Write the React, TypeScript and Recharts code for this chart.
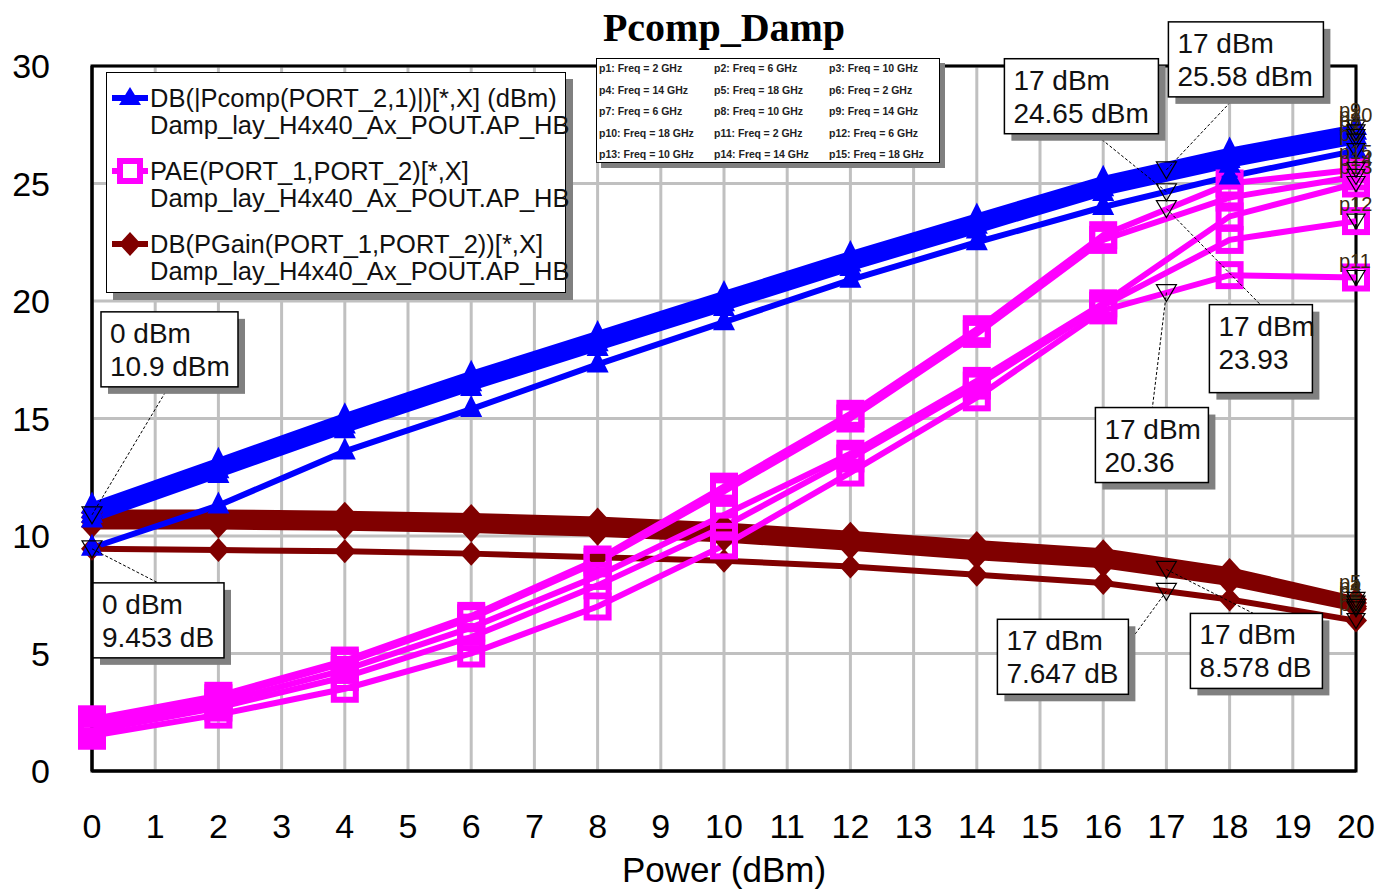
import React from "react"
import { LineChart, Line, XAxis, YAxis, CartesianGrid, ReferenceDot, ReferenceArea } from "recharts"

// input power sweep (dBm)
const power = [0, 2, 4, 6, 8, 10, 12, 14, 16, 18, 20]
const freqLabels = ["2 GHz", "6 GHz", "10 GHz", "14 GHz", "18 GHz"]

// DB(|Pcomp(PORT_2,1)|) per frequency (dBm)
const pcomp2 = [9.5, 11.3, 13.6, 15.4, 17.3, 19.1, 20.9, 22.5, 24.0, 25.3, 26.4]
const pcomp6 = [10.7, 12.6, 14.5, 16.3, 18.0, 19.7, 21.4, 23.0, 24.6, 25.8, 26.8]
const pcomp10 = [10.9, 12.8, 14.7, 16.5, 18.2, 19.9, 21.6, 23.2, 24.8, 26.0, 27.0]
const pcomp14 = [11.3, 13.2, 15.1, 16.9, 18.6, 20.3, 22.0, 23.6, 25.2, 26.4, 27.4]
const pcomp18 = [11.1, 13.0, 14.9, 16.7, 18.4, 20.1, 21.8, 23.4, 25.0, 26.2, 27.2]

// PAE(PORT_1,PORT_2) per frequency (%)
const pae2 = [1.5, 2.4, 3.5, 5.0, 7.0, 9.6, 12.7, 15.9, 19.6, 21.1, 21.0]
const pae6 = [1.7, 2.7, 4.0, 5.7, 7.9, 10.4, 13.3, 16.4, 19.8, 22.6, 23.4]
const pae10 = [1.9, 2.9, 4.3, 6.1, 8.3, 10.9, 13.5, 16.6, 19.9, 23.6, 25.0]
const pae14 = [2.1, 3.1, 4.6, 6.5, 8.9, 11.9, 15.0, 18.6, 22.6, 24.4, 25.3]
const pae18 = [2.2, 3.2, 4.7, 6.6, 9.0, 12.1, 15.2, 18.8, 22.8, 25.0, 25.6]

// DB(PGain(PORT_1,PORT_2)) per frequency (dB)
const gain2 = [9.453, 9.4, 9.35, 9.25, 9.1, 8.95, 8.7, 8.35, 8.0, 7.3, 6.4]
const gain6 = [10.4, 10.4, 10.35, 10.25, 10.1, 9.85, 9.5, 9.1, 8.75, 8.0, 6.9]
const gain10 = [10.6, 10.6, 10.55, 10.45, 10.3, 10.05, 9.7, 9.3, 8.95, 8.2, 7.0]
const gain14 = [10.8, 10.8, 10.75, 10.65, 10.5, 10.25, 9.9, 9.5, 9.15, 8.4, 7.15]
const gain18 = [11.0, 11.0, 10.95, 10.85, 10.7, 10.45, 10.1, 9.7, 9.35, 8.55, 7.3]

// marker readouts
const markerX = [0, 0, 17, 17, 17, 17, 17, 17]
const markerY = [10.9, 9.453, 25.58, 24.65, 23.93, 20.36, 8.578, 7.647]
const markerUnit = ["dBm", "dB", "dBm", "dBm", "", "", "dB", "dB"]

const xTicks = [0, 1, 2, 3, 4, 5, 6, 7, 8, 9, 10, 11, 12, 13, 14, 15, 16, 17, 18, 19, 20]
const yTicks = [0, 5, 10, 15, 20, 25, 30]

const BLUE = "#0000FF"
const MAGENTA = "#FF00FF"
const DARKRED = "#800000"
const FONT = "'Liberation Sans', Arial, sans-serif"

// box placement for each readout, relative to its marker (pixels)
const boxLayout = [
  { dx: 9, dy: -203, w: 137, h: 75, lx: 73, ly: -122 },
  { dx: 1, dy: 34, w: 131, h: 75, lx: 66, ly: 34 },
  { dx: 2, dy: -148, w: 155, h: 75, lx: 69, ly: -73 },
  { dx: -162, dy: -133, w: 154, h: 75, lx: -73, ly: -59 },
  { dx: 43, dy: 96, w: 103, h: 88, lx: 94, ly: 96 },
  { dx: -71, dy: 115, w: 113, h: 75, lx: -14, ly: 115 },
  { dx: 24, dy: 44, w: 132, h: 75, lx: 87, ly: 44 },
  { dx: -169, dy: 28, w: 131, h: 75, lx: -38, ly: 52 },
]

const groups = [
  { id: "gain", color: DARKRED, marker: "diamond", series: [gain2, gain6, gain10, gain14, gain18] },
  { id: "pcomp", color: BLUE, marker: "triangle", series: [pcomp2, pcomp6, pcomp10, pcomp14, pcomp18] },
  { id: "pae", color: MAGENTA, marker: "square", series: [pae2, pae6, pae10, pae14, pae18] },
]
// draw order: gain at the bottom, then PAE, then Pcomp on top
const drawOrder = ["gain", "pae", "pcomp"]

const data = power.map((p, i) => {
  const row: Record<string, number> = { power: p }
  groups.forEach((g) => g.series.forEach((s, k) => (row[`${g.id}${k}`] = s[i])))
  return row
})

function makeDot(marker: string, color: string, key: string) {
  return (props: any) => {
    const { cx, cy, index } = props
    if (cx == null || cy == null) return <g key={`${key}-${index}`} />
    if (marker === "triangle") {
      return (
        <polygon key={`${key}-${index}`} points={`${cx},${cy - 14} ${cx + 11},${cy + 8} ${cx - 11},${cy + 8}`} fill={color} />
      )
    }
    if (marker === "diamond") {
      return (
        <polygon key={`${key}-${index}`} points={`${cx},${cy - 12} ${cx + 11},${cy} ${cx},${cy + 12} ${cx - 11},${cy}`} fill={color} />
      )
    }
    return <rect key={`${key}-${index}`} x={cx - 11} y={cy - 11} width={22} height={22} fill="none" stroke={color} strokeWidth={6} />
  }
}

function ReadoutShape(props: any) {
  const { cx, cy, idx } = props
  const b = boxLayout[idx]
  const bx = cx + b.dx
  const by = cy + b.dy
  const line2 = markerUnit[idx] ? `${markerY[idx]} ${markerUnit[idx]}` : `${markerY[idx]}`
  return (
    <g>
      <line x1={cx} y1={cy} x2={cx + b.lx} y2={cy + b.ly} stroke="#000" strokeWidth={1} strokeDasharray="3 2" />
      <polygon points={`${cx - 10},${cy - 8} ${cx + 10},${cy - 8} ${cx},${cy + 9}`} fill="none" stroke="#000" strokeWidth={1.2} />
      <rect x={bx + 7} y={by + 7} width={b.w} height={b.h} fill="#808080" />
      <rect x={bx} y={by} width={b.w} height={b.h} fill="#fff" stroke="#000" strokeWidth={1.5} />
      <text x={bx + 9} y={by + 31} fontSize={28} fontFamily={FONT} fill="#111">
        {`${markerX[idx]} dBm`}
      </text>
      <text x={bx + 9} y={by + 64} fontSize={28} fontFamily={FONT} fill="#111">
        {line2}
      </text>
    </g>
  )
}

function EndMarker(props: any) {
  const { cx, cy, label } = props
  return (
    <g>
      <polygon points={`${cx - 9},${cy - 7} ${cx + 9},${cy - 7} ${cx},${cy + 8}`} fill="none" stroke="#000" strokeWidth={1.2} />
      <text x={cx - 17} y={cy - 10} fontSize={20} fontFamily={FONT} fill="#3a2a10">
        {label}
      </text>
    </g>
  )
}

const legendItems = [
  { color: BLUE, marker: "triangle", text: "DB(|Pcomp(PORT_2,1)|)[*,X] (dBm)" },
  { color: MAGENTA, marker: "square", text: "PAE(PORT_1,PORT_2)[*,X]" },
  { color: DARKRED, marker: "diamond", text: "DB(PGain(PORT_1,PORT_2))[*,X]" },
]
const legendSub = "Damp_lay_H4x40_Ax_POUT.AP_HB"

function LegendIcon({ color, marker }: { color: string; marker: string }) {
  return (
    <svg width={40} height={26} style={{ position: "absolute", left: 3, top: 0 }}>
      <line x1={2} y1={13} x2={38} y2={13} stroke={color} strokeWidth={6} />
      {marker === "triangle" && <polygon points="20,2 31,20 9,20" fill={color} />}
      {marker === "diamond" && <polygon points="20,1 31,13 20,25 9,13" fill={color} />}
      {marker === "square" && <rect x={10} y={3} width={20} height={20} fill="#fff" stroke={color} strokeWidth={6} />}
    </svg>
  )
}

export default function App() {
  const pLabels: { x: number; y: number; label: string }[] = []
  groups.forEach((g, gi) =>
    g.series.forEach((s, k) => pLabels.push({ x: power[power.length - 1], y: s[s.length - 1], label: `p${gi * 5 + k + 1}` }))
  )

  return (
    <div style={{ position: "absolute", left: 0, top: 0, width: 1382, height: 892, background: "#fff", fontFamily: FONT }}>
      <LineChart width={1382} height={892} data={data} margin={{ top: 66, right: 26, bottom: 0, left: 0 }}>
        <CartesianGrid stroke="#C0C0C0" strokeWidth={3} />
        <XAxis
          dataKey="power"
          type="number"
          domain={[0, 20]}
          ticks={xTicks}
          interval={0}
          height={121}
          tickSize={0}
          tickMargin={43}
          axisLine={{ stroke: "#000", strokeWidth: 3 }}
          tick={{ fill: "#000", fontSize: 34, fontFamily: FONT }}
          label={{ value: "Power (dBm)", position: "insideBottom", offset: 10, fill: "#000", fontSize: 35, fontFamily: FONT }}
        />
        <YAxis
          type="number"
          domain={[0, 30]}
          ticks={yTicks}
          width={92}
          tickSize={0}
          tickMargin={42}
          axisLine={{ stroke: "#000", strokeWidth: 3 }}
          tick={{ fill: "#000", fontSize: 34, fontFamily: FONT }}
        />
        <ReferenceArea x1={0} x2={20} y1={0} y2={30} fill="none" stroke="#000" strokeWidth={3} ifOverflow="visible" />
        {drawOrder.map((id) => {
          const g = groups.find((x) => x.id === id)!
          return g.series.map((_, k) => (
            <Line
              key={`${g.id}${k}`}
              dataKey={`${g.id}${k}`}
              name={`${g.id} ${freqLabels[k]}`}
              type="linear"
              stroke={g.color}
              strokeWidth={6}
              dot={makeDot(g.marker, g.color, `${g.id}${k}`)}
              activeDot={false}
              isAnimationActive={false}
            />
          ))
        })}
        {pLabels.map((p, i) => (
          <ReferenceDot
            key={`p${i}`}
            x={p.x}
            y={p.y}
            ifOverflow="visible"
            shape={(props: any) => <EndMarker {...props} label={p.label} />}
          />
        ))}
        {markerX.map((mx, i) => (
          <ReferenceDot
            key={`m${i}`}
            x={mx}
            y={markerY[i]}
            ifOverflow="visible"
            shape={(props: any) => <ReadoutShape {...props} idx={i} />}
          />
        ))}
      </LineChart>

      <div
        style={{
          position: "absolute",
          left: 524,
          top: 4,
          width: 400,
          textAlign: "center",
          fontFamily: "'Liberation Serif', 'Times New Roman', serif",
          fontWeight: "bold",
          fontSize: 40,
        }}
      >
        Pcomp_Damp
      </div>

      <div
        style={{
          position: "absolute",
          left: 106,
          top: 72,
          width: 458,
          height: 219,
          background: "#fff",
          border: "1px solid #000",
          boxShadow: "7px 7px 0 #808080",
          fontSize: 25.5,
          lineHeight: "27px",
          color: "#111",
        }}
      >
        {legendItems.map((it, i) => (
          <div key={i} style={{ position: "absolute", left: 0, top: 12 + i * 73, whiteSpace: "nowrap" }}>
            <LegendIcon color={it.color} marker={it.marker} />
            <div style={{ marginLeft: 43 }}>{it.text}</div>
            <div style={{ marginLeft: 43 }}>{legendSub}</div>
          </div>
        ))}
      </div>

      <div
        style={{
          position: "absolute",
          left: 596,
          top: 58,
          width: 342,
          height: 103,
          background: "#fff",
          border: "1px solid #000",
          boxShadow: "5px 5px 0 #808080",
          fontSize: 10.5,
          fontWeight: "bold",
          color: "#222",
        }}
      >
        {Array.from({ length: 15 }).map((_, i) => (
          <div
            key={i}
            style={{
              position: "absolute",
              left: 2 + (i % 3) * 115,
              top: 3 + Math.floor(i / 3) * 21.5,
              whiteSpace: "nowrap",
            }}
          >
            {`p${i + 1}: Freq = ${freqLabels[i % 5]}`}
          </div>
        ))}
      </div>
    </div>
  )
}
